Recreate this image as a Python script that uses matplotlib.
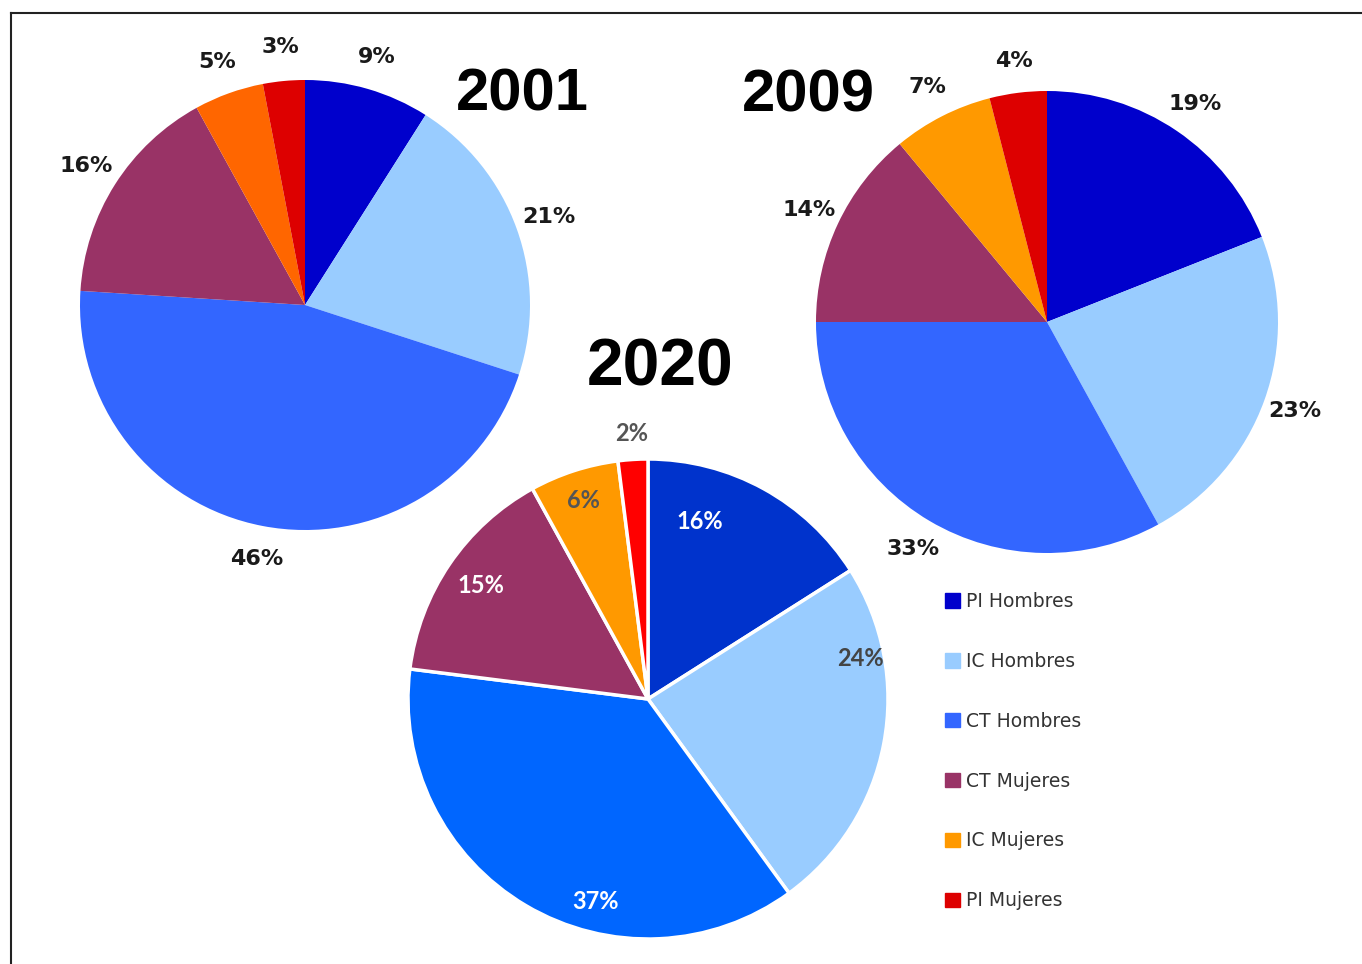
"""
Three pies: share of PI / IC / CT by sex, 2001, 2009 and 2020
"""

import numpy as np
import matplotlib.pyplot as plt
from matplotlib.lines import Line2D

W, H = 1362, 964

categories = ['PI Hombres', 'IC Hombres', 'CT Hombres', 'CT Mujeres', 'IC Mujeres', 'PI Mujeres']
years = ['2001', '2009', '2020']

values2001 = [9, 21, 46, 16, 5, 3]
values2009 = [19, 23, 33, 14, 7, 4]
values2020 = [16, 24, 37, 15, 6, 2]

colors2001 = ['#0000CC', '#99CCFF', '#3366FF', '#993366', '#FF6600', '#DD0000']
colors2009 = ['#0000CC', '#99CCFF', '#3366FF', '#993366', '#FF9900', '#DD0000']
colors2020 = ['#0033CC', '#99CCFF', '#0066FF', '#993366', '#FF9900', '#FF0000']

# label styling for the 2020 pie (inside labels, small slice outside)
labelColors2020 = ['white', '#444444', 'white', 'white', '#555555', '#555555']
labelDist2020 = [0.77, 0.90, 0.87, 0.84, 0.87, 1.11]
labelFrac2020 = [0.28, 0.25, 0.38, 0.5, 0.5, 0.5]   # position along the wedge angle


def pct(p):
    return f"{p:.0f}%"


fig = plt.figure(figsize=(W / 100, H / 100), dpi=100)
ax = fig.add_axes([0, 0, 1, 1])

# 2001 and 2009: labels outside, Verdana-like bold
for vals, cols, center, radius, dist in [(values2001, colors2001, (305, H - 305), 225, 1.15),
                                         (values2009, colors2009, (1047, H - 322), 231, 1.14)]:
    ax.pie(vals, colors=cols, startangle=90, counterclock=False,
           center=center, radius=radius, autopct=pct, pctdistance=dist,
           wedgeprops=dict(linewidth=0),
           textprops=dict(fontsize=16, fontweight='bold', color='#1a1a1a',
                          family='DejaVu Sans'))

# 2020: white edges, labels inside
center2020, r2020 = (648, H - 699), 240
wedges, texts, autotexts = ax.pie(values2020, colors=colors2020, startangle=90, counterclock=False,
                                  center=center2020, radius=r2020, autopct=pct,
                                  wedgeprops=dict(linewidth=2.5, edgecolor='white'),
                                  textprops=dict(fontsize=17, fontweight='bold', family='Lato'))
for w, t, c, d, f in zip(wedges, autotexts, labelColors2020, labelDist2020, labelFrac2020):
    ang = np.deg2rad(w.theta1 + (w.theta2 - w.theta1) * (1 - f))
    t.set_position((center2020[0] + d * r2020 * np.cos(ang),
                    center2020[1] + d * r2020 * np.sin(ang)))
    t.set_color(c)

# year titles
titleFont = dict(fontweight='bold', family='Liberation Sans', ha='center', va='center')
ax.text(522, H - 95, years[0], fontsize=43, **titleFont)
ax.text(808, H - 96, years[1], fontsize=43, **titleFont)
ax.text(660, H - 368, years[2], fontsize=47.5, **titleFont)

ax.set_xlim(0, W)
ax.set_ylim(0, H)
ax.set_aspect('equal')
ax.axis('off')

# legend with plain squares
handles = [plt.Rectangle((0, 0), 1, 1, color=c) for c in colors2009]
leg = ax.legend(handles, categories, loc='upper left', bbox_to_anchor=(945 / W, 1 - 592 / H),
                frameon=False, fontsize=13.5, handlelength=0.8, handleheight=0.8,
                handletextpad=0.3, labelspacing=2.18, borderpad=0, borderaxespad=0)
for t in leg.get_texts():
    t.set_color('#333333')

# frame lines of the original scan (left and top)
fig.add_artist(Line2D([11 / W, 11 / W], [0, 1 - 13 / H], color='#222222', lw=1.5))
fig.add_artist(Line2D([11 / W, 1], [1 - 13 / H, 1 - 13 / H], color='#222222', lw=1.5))

plt.savefig('out.png', dpi=100)
